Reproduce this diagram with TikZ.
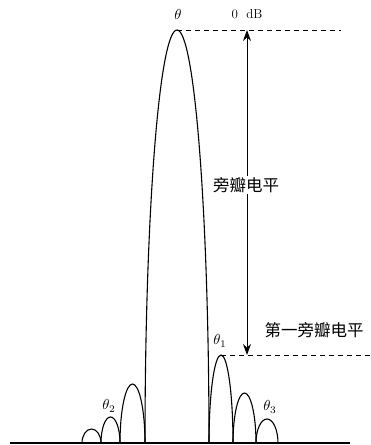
\documentclass[tikz,border=0pt]{standalone}
\usepackage{fontspec}
\newfontfamily\cjk{Noto Sans CJK SC}
\usetikzlibrary{arrows.meta}
\begin{document}
\begin{tikzpicture}[x=1pt,y=1pt,
  lobe/.style={line width=1.1pt},
  dashline/.style={line width=0.9pt,dash pattern=on 5pt off 4pt},
  dim/.style={line width=1pt,{Stealth[length=11pt,width=8pt]}-{Stealth[length=11pt,width=8pt]}},
  lbl/.style={inner sep=1pt,font=\fontsize{10}{12}\selectfont,scale=1.45},
  cjklbl/.style={inner sep=1pt,font=\cjk\fontsize{16.5}{19}\selectfont}]
\useasboundingbox (0,0) rectangle (371,445);
% main lobe
\draw[lobe] (145,2) arc[start angle=180,end angle=0,x radius=32pt,y radius=413pt];
% right side lobes
\draw[lobe] (209,2) arc[start angle=180,end angle=0,x radius=12pt,y radius=88pt];
\draw[lobe] (233,2) arc[start angle=180,end angle=0,x radius=11.5pt,y radius=50pt];
\draw[lobe] (256,2) arc[start angle=180,end angle=0,x radius=11pt,y radius=24pt];
% left side lobes
\draw[lobe] (120,2) arc[start angle=180,end angle=0,x radius=12.5pt,y radius=59pt];
\draw[lobe] (101,2) arc[start angle=180,end angle=0,x radius=9.5pt,y radius=26pt];
\draw[lobe] (82,2) arc[start angle=180,end angle=0,x radius=9.5pt,y radius=14pt];
% baseline
\draw[line width=2.6pt] (10,2) -- (350,2);
% reference coordinates
\coordinate (top0) at (177,415);
\coordinate (topend) at (341,415);
\coordinate (side0) at (221,90);
\coordinate (sideend) at (371,90);
\coordinate (atop) at (247,415);
\coordinate (abot) at (247,90);
\draw[dashline] (top0) -- (topend);
\draw[dashline] (side0) -- (sideend);
\draw[dim] (abot) -- (atop);
% labels
\node[lbl] (th) at (178,431) {$\theta$};
\node[inner sep=1pt,font=\fontsize{13}{15}\selectfont] (db) at (247,431) {0\ \ dB};
\node[cjklbl,fill=white] (sll) at (246,260) {旁瓣电平};
\node[cjklbl] (fsll) at (314,115) {第一旁瓣电平};
\node[lbl] (th1) at (220,104) {$\theta_1$};
\node[lbl] (th2) at (109,39) {$\theta_2$};
\node[lbl] (th3) at (270,38) {$\theta_3$};
\end{tikzpicture}
\end{document}
